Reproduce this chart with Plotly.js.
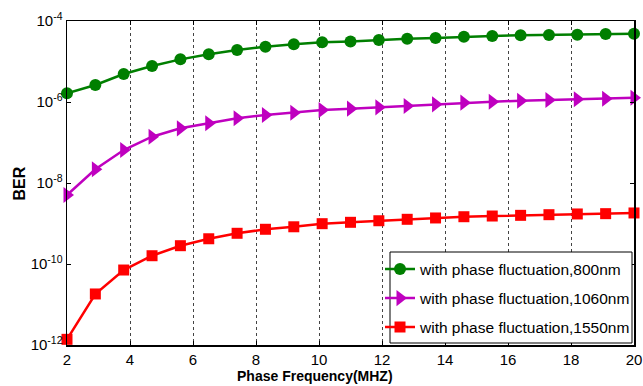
<!DOCTYPE html>
<html>
<head>
<meta charset="utf-8">
<script src="https://cdn.plot.ly/plotly-3.0.1.min.js"></script>
<style>html,body{margin:0;padding:0;background:#fff;}#chart{width:643px;height:386px;}</style>
</head>
<body>
<div id="chart"></div>
<script>
const freq = [2, 2.9, 3.8, 4.7, 5.6, 6.5, 7.4, 8.3, 9.2, 10.1, 11, 11.9, 12.8, 13.7, 14.6, 15.5, 16.4, 17.3, 18.2, 19.1, 20];
const ber800 = [1.64e-6, 2.63e-6, 4.91e-6, 7.74e-6, 1.13e-5, 1.51e-5, 1.92e-5, 2.32e-5, 2.66e-5, 2.98e-5, 3.12e-5, 3.40e-5, 3.66e-5, 3.80e-5, 4.09e-5, 4.27e-5, 4.44e-5, 4.51e-5, 4.59e-5, 4.78e-5, 4.85e-5];
const ber1060 = [5.06e-9, 2.18e-8, 6.53e-8, 1.39e-7, 2.24e-7, 2.98e-7, 3.96e-7, 4.78e-7, 5.44e-7, 6.34e-7, 6.84e-7, 7.40e-7, 7.96e-7, 8.77e-7, 9.62e-7, 1.016e-6, 1.076e-6, 1.12e-6, 1.167e-6, 1.205e-6, 1.276e-6];
const ber1550 = [1.38e-12, 1.82e-11, 7.1e-11, 1.6e-10, 2.83e-10, 4.2e-10, 5.73e-10, 7.2e-10, 8.3e-10, 9.9e-10, 1.07e-9, 1.17e-9, 1.27e-9, 1.37e-9, 1.47e-9, 1.53e-9, 1.59e-9, 1.65e-9, 1.72e-9, 1.75e-9, 1.82e-9];
const seriesNames = ['with phase fluctuation,800nm', 'with phase fluctuation,1060nm', 'with phase fluctuation,1550nm'];
const xTicks = [2, 4, 6, 8, 10, 12, 14, 16, 18, 20];
const yTickVals = [1e-12, 1e-10, 1e-8, 1e-6, 1e-4];
const yTickText = ['10<sup>-12</sup>', '10<sup>-10</sup>', '10<sup>-8</sup>', '10<sup>-6</sup>', '10<sup>-4</sup>'];

const W = 643, H = 386;
const PL = 67, PR = 634, PT = 21, PB = 345;
const px2x = p => (p - PL) / (PR - PL);
const px2y = p => (PB - p) / (PB - PT);

const traces = [
  {x: freq, y: ber800, name: seriesNames[0], mode: 'lines+markers', legend: 'legend',
   line: {color: '#007f00', width: 2.5}, marker: {symbol: 'circle', size: 12, color: '#007f00'}, cliponaxis: false},
  {x: freq, y: ber1060, name: seriesNames[1], mode: 'lines+markers', legend: 'legend2',
   line: {color: '#bf00bf', width: 2.5}, marker: {symbol: 'triangle-right', size: 14, color: '#bf00bf'}, cliponaxis: false},
  {x: freq, y: ber1550, name: seriesNames[2], mode: 'lines+markers', legend: 'legend3',
   line: {color: '#ff0000', width: 2.5}, marker: {symbol: 'square', size: 11, color: '#ff0000'}, cliponaxis: false}
];

const legFont = {family: 'Arial, Liberation Sans, sans-serif', size: 15.5, color: '#000'};
function leg(yc) {
  return {xref: 'container', yref: 'container', x: 380 / W, xanchor: 'left', y: 1 - yc / H, yanchor: 'middle',
          bgcolor: 'rgba(0,0,0,0)', borderwidth: 0, font: legFont, itemwidth: 30};
}

const layout = {
  width: W, height: H,
  margin: {l: PL, r: W - PR, t: PT, b: H - PB, pad: 0, autoexpand: false},
  paper_bgcolor: '#fff', plot_bgcolor: '#fff',
  font: {family: 'Arial, Liberation Sans, sans-serif', size: 15, color: '#000'},
  showlegend: true,
  legend: leg(269.5), legend2: leg(298.5), legend3: leg(327.5),
  xaxis: {
    range: [2, 20], tickvals: xTicks, ticks: 'inside', ticklen: 4, tickcolor: '#000',
    showline: true, linecolor: '#000', linewidth: 1.5, mirror: 'ticks',
    showgrid: true, gridcolor: '#444', griddash: 'dot', gridwidth: 1, zeroline: false,
    tickfont: {size: 15}, automargin: false
  },
  yaxis: {
    type: 'log', range: [-12, -4], tickvals: yTickVals, ticktext: yTickText, ticks: 'inside', ticklen: 4, tickcolor: '#000',
    showline: true, linecolor: '#000', linewidth: 1.5, mirror: 'ticks',
    showgrid: false, zeroline: false, tickfont: {size: 15}, automargin: false
  },
  shapes: [
    {type: 'rect', xref: 'paper', yref: 'paper', x0: px2x(390), x1: px2x(632), y0: px2y(343), y1: px2y(252),
     line: {color: '#000', width: 1}, fillcolor: '#fff', layer: 'above'}
  ],
  annotations: [
    {text: '<b>Phase Frequency(MHZ)</b>', xref: 'paper', yref: 'paper', x: px2x(314.5), y: px2y(376),
     xanchor: 'center', yanchor: 'middle', showarrow: false, font: {size: 14}},
    {text: '<b>BER</b>', xref: 'paper', yref: 'paper', x: px2x(19), y: px2y(183.5), textangle: -90,
     xanchor: 'center', yanchor: 'middle', showarrow: false, font: {size: 16}}
  ]
};

Plotly.newPlot('chart', traces, layout, {displayModeBar: false, staticPlot: true});
</script>
</body>
</html>
